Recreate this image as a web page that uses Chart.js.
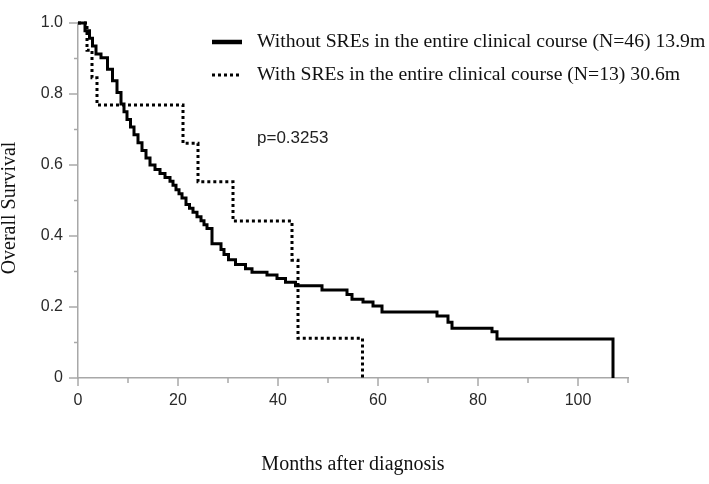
<!DOCTYPE html>
<html>
<head>
<meta charset="utf-8">
<script src="https://cdn.jsdelivr.net/npm/chart.js@4.4.1/dist/chart.umd.min.js"></script>
<style>
  html, body { margin: 0; padding: 0; background: #fff; }
  #km { display: block; }
</style>
</head>
<body>
<canvas id="km" width="709" height="484"></canvas>
<script>
// Kaplan-Meier estimates (months after diagnosis, proportion surviving)
const noSreLabel = "Without SREs in the entire clinical course (N=46) 13.9m";
const noSreMonths = [0, 1.4, 2.3, 2.9, 3.6, 4.6, 5.9, 6.9, 7.8, 8.6, 9.2, 9.8, 10.5, 11.2, 12.0,
  12.8, 13.6, 14.4, 15.4, 16.4, 17.4, 18.4, 19.0, 19.6, 20.2, 20.8, 21.6, 22.3, 23.0, 23.8,
  24.6, 25.2, 25.8, 26.8, 28.6, 29.2, 30.1, 31.5, 33.5, 34.8, 37.8, 39.8, 41.5, 43.5, 48.8,
  53.8, 54.8, 57.0, 59.0, 60.8, 71.8, 74.0, 74.8, 82.8, 83.8, 107.0];
const noSreSurv = [1.0, 0.978, 0.957, 0.935, 0.913, 0.902, 0.870, 0.837, 0.804, 0.772, 0.750, 0.728, 0.707, 0.685, 0.663,
  0.641, 0.620, 0.600, 0.587, 0.576, 0.565, 0.554, 0.543, 0.530, 0.519, 0.507, 0.489, 0.478, 0.467, 0.454,
  0.443, 0.432, 0.421, 0.378, 0.362, 0.348, 0.333, 0.320, 0.308, 0.298, 0.290, 0.280, 0.270, 0.260, 0.248,
  0.235, 0.222, 0.214, 0.203, 0.186, 0.175, 0.157, 0.140, 0.130, 0.110, 0.0];

const sreLabel = "With SREs in the entire clinical course (N=13) 30.6m";
const sreMonths = [0, 1.8, 2.8, 3.8, 21.0, 24.0, 31.0, 42.8, 44.0, 56.9];
const sreSurv = [1.0, 0.923, 0.846, 0.769, 0.661, 0.553, 0.442, 0.332, 0.112, 0.0];

const xTickLabels = ["0", "", "20", "", "40", "", "60", "", "80", "", "100", ""];
const yTickLabels = ["0", "", "0.2", "", "0.4", "", "0.6", "", "0.8", "", "1.0"];
const yTitle = "Overall Survival";
const pValueText = "p=0.3253";

const axisGray = "#a8a8a8";
const tickFont = { family: "Liberation Sans", size: 16, lineHeight: 1 };
const serifFont = { family: "Liberation Serif", size: 20, lineHeight: 1 };

function toPoints(xs, ys) {
  return xs.map((m, i) => ({ x: m, y: ys[i] }));
}

// major/minor tick marks, y title, legend and p-value
const kmExtras = {
  id: "kmExtras",
  afterDraw(chart) {
    const { ctx, scales: { x, y } } = chart;
    ctx.save();
    ctx.strokeStyle = axisGray;
    ctx.lineWidth = 1.5;
    x.ticks.forEach((t, i) => {
      const px = x.getPixelForValue(t.value);
      const len = xTickLabels[i] ? 8 : 5;
      ctx.beginPath();
      ctx.moveTo(px, x.top);
      ctx.lineTo(px, x.top + len);
      ctx.stroke();
    });
    y.ticks.forEach((t, i) => {
      const py = y.getPixelForValue(t.value);
      const len = yTickLabels[i] ? 9 : 4;
      ctx.beginPath();
      ctx.moveTo(y.right - len, py);
      ctx.lineTo(y.right, py);
      ctx.stroke();
    });

    // y axis title, sits a bit below the axis centre in the original
    ctx.save();
    ctx.translate(10, 208);
    ctx.rotate(-Math.PI / 2);
    ctx.font = serifFont.size + 'px "' + serifFont.family + '"';
    ctx.fillStyle = "#111";
    ctx.textAlign = "center";
    ctx.textBaseline = "middle";
    ctx.fillText(yTitle, 0, 0);
    ctx.restore();

    // legend
    ctx.textBaseline = "middle";
    ctx.textAlign = "left";
    ctx.font = '19.7px "' + serifFont.family + '"';
    chart.data.datasets.forEach((ds, i) => {
      const ly = 42 + i * 33;
      ctx.strokeStyle = ds.borderColor;
      ctx.lineWidth = i === 0 ? 4.5 : 3;
      ctx.setLineDash(ds.borderDash || []);
      ctx.beginPath();
      ctx.moveTo(212, ly);
      ctx.lineTo(i === 0 ? 242 : 241, ly);
      ctx.stroke();
      ctx.setLineDash([]);
      ctx.fillStyle = "#111";
      ctx.fillText(ds.label, 257, ly);
    });

    ctx.font = '17px "Liberation Sans"';
    ctx.fillStyle = "#222";
    ctx.fillText(pValueText, 257, 138);
    ctx.restore();
  }
};

new Chart(document.getElementById("km"), {
  type: "line",
  data: {
    datasets: [
      {
        label: noSreLabel,
        data: toPoints(noSreMonths, noSreSurv),
        borderColor: "#000",
        borderWidth: 3,
        stepped: true,
        pointRadius: 0,
        fill: false,
        clip: false
      },
      {
        label: sreLabel,
        data: toPoints(sreMonths, sreSurv),
        borderColor: "#000",
        borderWidth: 3,
        borderDash: [3, 3],
        stepped: true,
        pointRadius: 0,
        fill: false,
        clip: false
      }
    ]
  },
  options: {
    responsive: false,
    animation: false,
    events: [],
    layout: { padding: { top: 7, right: 81, left: 0, bottom: 0 } },
    plugins: { legend: { display: false }, tooltip: { enabled: false } },
    scales: {
      x: {
        type: "linear",
        min: 0,
        max: 110,
        afterFit: (s) => { s.height = 106; },
        ticks: {
          stepSize: 10,
          autoSkip: false,
          maxRotation: 0,
          padding: 15,
          color: "#2a2a2a",
          font: tickFont,
          callback: (v, i) => xTickLabels[i]
        },
        grid: { display: false, drawTicks: false },
        border: { display: true, color: axisGray, width: 1.5 },
        title: {
          display: true,
          text: "Months after diagnosis",
          color: "#111",
          font: serifFont,
          padding: { top: 0, bottom: 9 }
        }
      },
      y: {
        type: "linear",
        min: 0,
        max: 1,
        afterFit: (s) => { s.width = 78; },
        ticks: {
          stepSize: 0.1,
          autoSkip: false,
          padding: 15,
          color: "#2a2a2a",
          font: tickFont,
          callback: (v, i) => yTickLabels[i]
        },
        grid: { display: false, drawTicks: false },
        border: { display: true, color: axisGray, width: 1.5 },
        title: { display: false }
      }
    }
  },
  plugins: [kmExtras]
});
</script>
</body>
</html>
